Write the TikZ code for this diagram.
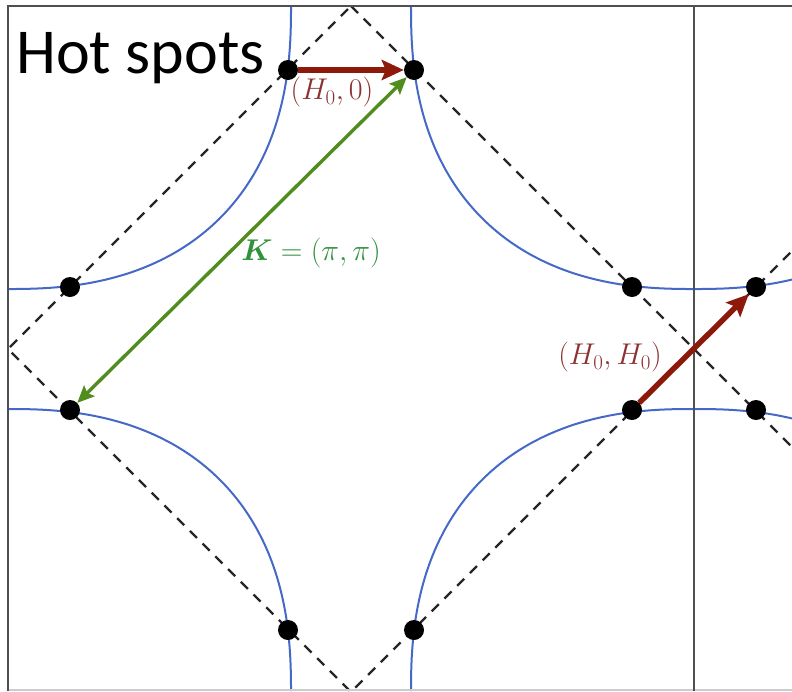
\RequirePackage{fix-cm}
\documentclass[tikz,border=0pt]{standalone}
\usepackage{amsmath}
\usepackage{fontspec}
\newfontfamily\hotfont{Carlito}
\usetikzlibrary{arrows.meta}
\definecolor{fsblue}{RGB}{70,105,200}
\definecolor{arrred}{RGB}{140,25,10}
\definecolor{lblred}{RGB}{140,50,50}
\definecolor{arrgreen}{RGB}{80,140,30}
\definecolor{lblgreen}{RGB}{50,145,60}
\definecolor{framegray}{RGB}{80,80,80}
\newcommand\pocketquad[4]{%
  \draw[fs] plot[domain=0.05:89.95,samples=90,smooth]
    ({#1+(#3)*283*cos(\x)^0.8333},{#2+(#4)*283*sin(\x)^0.8333});}
\newcommand\pocketat[2]{%
  \pocketquad{#1}{#2}{1}{1}\pocketquad{#1}{#2}{1}{-1}%
  \pocketquad{#1}{#2}{-1}{1}\pocketquad{#1}{#2}{-1}{-1}}
\begin{document}
\begin{tikzpicture}[x=1pt,y=-1pt,
 fs/.style={fsblue, line width=2pt},
 dia/.style={black!85, line width=2.3pt, dash pattern=on 10pt off 8pt},
 hot/.style={circle, fill=black, minimum size=20pt, inner sep=0pt},
 frm/.style={framegray, line width=2pt},
 redarr/.style={arrred, line width=5.5pt, -{Stealth[length=22pt,width=20pt,inset=4pt]}},
 grnarr/.style={arrgreen, line width=3.4pt, {Stealth[length=17pt,width=15pt,inset=3pt]}-{Stealth[length=17pt,width=15pt,inset=3pt]}},
 lbl/.style={font=\fontsize{30}{36}\selectfont, inner sep=0pt}
]
\useasboundingbox (0,0) rectangle (792,691);
\fill[white] (0,0) rectangle (792,691);
\begin{scope}
  \clip (8,6) rectangle (792,691);
  \pocketat{8}{6}
  \pocketat{694}{6}
  \pocketat{8}{692}
  \pocketat{694}{692}
  \draw[dia] (351,6) -- (694,349) -- (351,692) -- (8,349) -- cycle;
  \draw[dia] (694,349) -- (900,143);
  \draw[dia] (694,349) -- (900,555);
\end{scope}
% frame
\draw[black!20, line width=1.2pt] (8,690) -- (792,690);
\draw[frm] (8,691) -- (8,6) -- (792,6);
\draw[frm] (694,6) -- (694,691);
% hot spots
\node[hot] (h1) at (288,70) {};
\node[hot] (h2) at (414,70) {};
\node[hot] (h3) at (70,287) {};
\node[hot] (h4) at (632,287) {};
\node[hot] (h5) at (70,410) {};
\node[hot] (h6) at (632,410) {};
\node[hot] (h7) at (288,630) {};
\node[hot] (h8) at (414,630) {};
\node[hot] (h9) at (756,287) {};
\node[hot] (h10) at (756,410) {};
% arrows
\draw[redarr] (h1) -- (h2);
\draw[redarr] (h6) -- (h9);
\draw[grnarr] (h2) -- (h5);
% labels
\node[lbl, text=lblred] (l1) at (332,92) {$(H_0,0)$};
\node[lbl, text=lblred] (l2) at (610,357) {$(H_0,H_0)$};
\node[lbl, text=lblgreen] (l3) at (311,253) {$\boldsymbol{K}=(\pi,\pi)$};
\node[anchor=base west, inner sep=0pt, font=\hotfont\fontsize{64}{70}\selectfont] (title) at (16,73) {Hot spots};
\end{tikzpicture}
\end{document}
